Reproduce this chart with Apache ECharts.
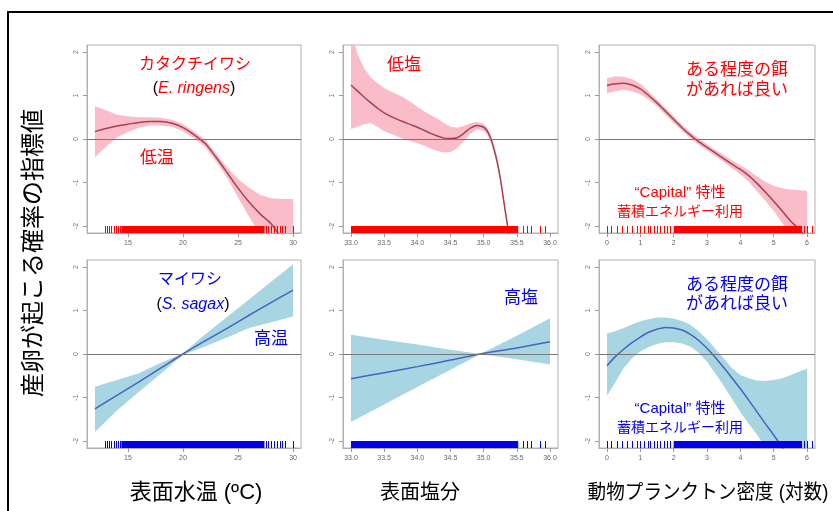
<!DOCTYPE html>
<html>
<head>
<meta charset="utf-8">
<script src="https://cdn.jsdelivr.net/npm/echarts@6/dist/echarts.min.js"></script>
<style>
  html, body { margin: 0; padding: 0; background: #fff; }
  #chart { width: 833px; height: 511px; }
</style>
</head>
<body>
<div id="chart"></div>
<script>
// ---- data ----
// temperature panels (x = SST)
var tempX        = [12, 13, 14, 15, 16, 17, 18, 19, 20, 21, 22, 23, 24, 25, 26, 27, 28, 29, 30];
var anchTempFit  = [0.17, 0.24, 0.30, 0.34, 0.38, 0.40, 0.40, 0.36, 0.26, 0.10, -0.10, -0.42, -0.77, -1.13, -1.45, -1.72, -1.95, -2.30, -2.65];
var anchTempHi   = [0.75, 0.66, 0.56, 0.52, 0.50, 0.50, 0.49, 0.44, 0.34, 0.18, -0.02, -0.33, -0.65, -0.92, -1.12, -1.28, -1.36, -1.38, -1.38];
var anchTempLo   = [-0.42, -0.18, 0.04, 0.16, 0.26, 0.31, 0.31, 0.28, 0.18, 0.02, -0.18, -0.51, -0.89, -1.34, -1.78, -2.20, -2.60, -3.10, -3.60];

var sardTempX    = [12, 14, 16, 18, 20, 22, 24, 26, 28, 30];
var sardTempFit  = [-1.26, -0.95, -0.64, -0.32, 0.00, 0.30, 0.59, 0.89, 1.18, 1.47];
var sardTempHi   = [-0.75, -0.60, -0.44, -0.20, 0.02, 0.45, 0.85, 1.25, 1.66, 2.06];
var sardTempLo   = [-1.79, -1.30, -0.87, -0.45, -0.02, 0.17, 0.38, 0.60, 0.73, 0.86];

// salinity panels
var anchSalX     = [33.0, 33.1, 33.2, 33.3, 33.4, 33.5, 33.6, 33.7, 33.8, 33.9, 34.0, 34.1, 34.2, 34.3, 34.4, 34.5, 34.6, 34.7, 34.8, 34.9, 35.0, 35.05, 35.1, 35.15, 35.2, 35.25, 35.3, 35.35, 35.4, 35.45];
var anchSalFit   = [1.24, 1.10, 0.96, 0.83, 0.71, 0.60, 0.52, 0.45, 0.39, 0.33, 0.27, 0.20, 0.13, 0.07, 0.02, 0.01, 0.03, 0.13, 0.25, 0.31, 0.27, 0.19, 0.04, -0.20, -0.50, -0.90, -1.40, -1.90, -2.40, -2.90];
var anchSalHi    = [2.50, 1.95, 1.62, 1.42, 1.28, 1.17, 1.09, 1.02, 0.95, 0.85, 0.74, 0.64, 0.55, 0.47, 0.37, 0.28, 0.26, 0.30, 0.36, 0.39, 0.35, 0.27, 0.12, -0.12, -0.42, -0.82, -1.32, -1.82, -2.32, -2.82];
var anchSalLo    = [0.23, 0.28, 0.34, 0.37, 0.28, 0.18, 0.12, 0.06, 0.00, -0.05, -0.10, -0.15, -0.22, -0.27, -0.31, -0.30, -0.21, -0.05, 0.12, 0.22, 0.19, 0.11, -0.04, -0.28, -0.58, -0.98, -1.48, -1.98, -2.48, -2.98];

var sardSalX     = [33.0, 33.5, 34.0, 34.5, 34.95, 35.5, 36.0];
var sardSalFit   = [-0.57, -0.43, -0.29, -0.14, 0.00, 0.14, 0.28];
var sardSalHi    = [0.44, 0.33, 0.22, 0.10, 0.00, 0.42, 0.82];
var sardSalLo    = [-1.56, -1.16, -0.76, -0.36, 0.00, -0.12, -0.24];

// zooplankton panels (log density)
var zooX         = [0, 0.25, 0.5, 0.75, 1.0, 1.25, 1.5, 1.75, 2.0, 2.25, 2.5, 2.75, 3.0, 3.25, 3.5, 3.75, 4.0, 4.25, 4.5, 4.75, 5.0, 5.25, 5.5, 5.75, 6.0];
var anchZooFit   = [1.23, 1.27, 1.28, 1.24, 1.15, 1.00, 0.83, 0.64, 0.45, 0.26, 0.09, -0.06, -0.19, -0.32, -0.45, -0.58, -0.70, -0.84, -1.02, -1.22, -1.43, -1.65, -1.88, -2.06, -2.28];
var anchZooHi    = [1.39, 1.44, 1.43, 1.38, 1.27, 1.09, 0.91, 0.72, 0.53, 0.33, 0.16, 0.01, -0.12, -0.25, -0.37, -0.49, -0.61, -0.72, -0.86, -0.98, -1.08, -1.13, -1.16, -1.18, -1.19];
var anchZooLo    = [1.05, 1.10, 1.13, 1.10, 1.03, 0.91, 0.75, 0.56, 0.37, 0.19, 0.02, -0.13, -0.26, -0.39, -0.53, -0.67, -0.81, -0.98, -1.20, -1.42, -1.65, -1.92, -2.25, -2.60, -3.00];

var sardZooFit   = [-0.27, -0.06, 0.11, 0.26, 0.39, 0.50, 0.57, 0.61, 0.60, 0.55, 0.45, 0.31, 0.13, -0.08, -0.31, -0.55, -0.80, -1.06, -1.33, -1.60, -1.86, -2.13, -2.40, -2.67, -2.95];
var sardZooHi    = [0.47, 0.52, 0.60, 0.68, 0.75, 0.80, 0.84, 0.84, 0.81, 0.76, 0.67, 0.52, 0.34, 0.12, -0.10, -0.33, -0.48, -0.56, -0.61, -0.62, -0.60, -0.56, -0.49, -0.41, -0.34];
var sardZooLo    = [-0.96, -0.65, -0.33, -0.10, 0.06, 0.16, 0.23, 0.27, 0.27, 0.24, 0.17, 0.03, -0.18, -0.45, -0.73, -1.03, -1.33, -1.60, -1.85, -2.15, -2.45, -2.80, -3.15, -3.50, -3.90];

// rug (observation positions): single ticks and dense stretches
var rugTempTicks = [12.9, 13.1, 13.3, 13.5, 13.7, 13.9, 14.1, 14.3, 27.5, 27.7, 28.0, 28.3, 28.5, 28.8, 29.0, 29.3, 30.0];
var rugTempBands = [[14.4, 27.4]];
var rugSalTicks  = [35.6, 35.66, 35.72, 35.85, 35.93];
var rugSalBands  = [[33.0, 35.52]];
var rugZooTicks  = [0.0, 0.12, 0.3, 0.45, 0.6, 0.75, 0.9, 1.0, 1.12, 1.22, 1.3, 1.4, 1.5, 1.6, 1.7, 1.8, 1.9, 5.9, 6.0, 6.15];
var rugZooBands  = [[2.0, 5.85]];

// axis ticks
var tempTicks = [15, 20, 25, 30];
var salTicks  = [33.0, 33.5, 34.0, 34.5, 35.0, 35.5, 36.0];
var zooTicks  = [0, 1, 2, 3, 4, 5, 6];
var yTicks    = [-2, -1, 0, 1, 2];

// ---- layout ----
var RED = '#ff0000', BLUE = '#0000ee';
var PINK = '#f9bcc8', LBLUE = '#a8d5e2';
var REDLINE = '#a8404f', BLUELINE = '#4563c0';
var YMIN = -2.16, YMAX = 2.16;

var panels = [
  {left: 87,  top: 45,  width: 214, x: tempX,    fit: anchTempFit, hi: anchTempHi, lo: anchTempLo, min: 11.28, max: 30.72, ticks: tempTicks, rt: rugTempTicks, rb: rugTempBands, band: PINK,  line: REDLINE,  rug: RED,  dec: 0},
  {left: 343, top: 45,  width: 215, x: anchSalX, fit: anchSalFit,  hi: anchSalHi,  lo: anchSalLo,  min: 32.88, max: 36.12, ticks: salTicks,  rt: rugSalTicks,  rb: rugSalBands,  band: PINK,  line: REDLINE,  rug: RED,  dec: 1},
  {left: 599, top: 45,  width: 216, x: zooX,     fit: anchZooFit,  hi: anchZooHi,  lo: anchZooLo,  min: -0.24, max: 6.24,  ticks: zooTicks,  rt: rugZooTicks,  rb: rugZooBands,  band: PINK,  line: REDLINE,  rug: RED,  dec: 0},
  {left: 87,  top: 260, width: 214, x: sardTempX, fit: sardTempFit, hi: sardTempHi, lo: sardTempLo, min: 11.28, max: 30.72, ticks: tempTicks, rt: rugTempTicks, rb: rugTempBands, band: LBLUE, line: BLUELINE, rug: BLUE, dec: 0},
  {left: 343, top: 260, width: 215, x: sardSalX, fit: sardSalFit,  hi: sardSalHi,  lo: sardSalLo,  min: 32.88, max: 36.12, ticks: salTicks,  rt: rugSalTicks,  rb: rugSalBands,  band: LBLUE, line: BLUELINE, rug: BLUE, dec: 1},
  {left: 599, top: 260, width: 216, x: zooX,     fit: sardZooFit,  hi: sardZooHi,  lo: sardZooLo,  min: -0.24, max: 6.24,  ticks: zooTicks,  rt: rugZooTicks,  rb: rugZooBands,  band: LBLUE, line: BLUELINE, rug: BLUE, dec: 0}
];

function pairs(xs, ys) {
  return xs.map(function (x, i) { return [x, ys[i]]; });
}

var grids = [], xAxes = [], yAxes = [], series = [];

panels.forEach(function (p, i) {
  grids.push({left: p.left, top: p.top, width: p.width, height: 188, show: true,
    borderColor: '#b0b0b0', borderWidth: 1, backgroundColor: 'transparent'});

  xAxes.push({
    gridIndex: i, type: 'value', min: p.min, max: p.max,
    axisLine: {show: true, onZero: false, lineStyle: {color: '#b0b0b0'}},
    axisTick: {show: true, customValues: p.ticks, length: 4, lineStyle: {color: '#999'}},
    axisLabel: {customValues: p.ticks, fontSize: 7, color: '#666', margin: 7,
      fontFamily: 'Liberation Sans',
      formatter: (function (d) { return function (v) { return v.toFixed(d); }; })(p.dec)},
    splitLine: {show: false}
  });
  yAxes.push({
    gridIndex: i, type: 'value', min: YMIN, max: YMAX,
    axisLine: {show: true, onZero: false, lineStyle: {color: '#b0b0b0'}},
    axisTick: {show: true, customValues: yTicks, length: 4, lineStyle: {color: '#999'}},
    axisLabel: {customValues: yTicks, fontSize: 7, color: '#777', rotate: 90, margin: 7,
      fontFamily: 'Liberation Sans'},
    splitLine: {show: false}
  });

  // confidence band as one polygon (upper edge then lower edge back)
  series.push({
    type: 'custom', xAxisIndex: i, yAxisIndex: i, silent: true, clip: true, z: 1,
    encode: {x: 0, y: [1, 2]},
    data: p.x.map(function (x, k) { return [x, p.lo[k], p.hi[k]]; }),
    renderItem: function (params, api) {
      if (params.dataIndex !== 0) return null;
      var pts = [];
      p.x.forEach(function (x, k) { pts.push(api.coord([x, p.hi[k]])); });
      for (var k = p.x.length - 1; k >= 0; k--) pts.push(api.coord([p.x[k], p.lo[k]]));
      return {type: 'polygon', shape: {points: pts}, style: {fill: p.band}};
    }
  });

  // fitted smooth + zero line
  series.push({
    type: 'line', xAxisIndex: i, yAxisIndex: i, data: pairs(p.x, p.fit),
    smooth: 0.3, symbol: 'none', silent: true, z: 3,
    lineStyle: {color: p.line, width: 1.5},
    markLine: {silent: true, symbol: 'none', label: {show: false},
      lineStyle: {color: '#777', width: 1, type: 'solid'}, data: [{yAxis: 0}]}
  });

  // rug: single ticks as 1px rects, dense stretches as filled rects
  series.push({
    type: 'custom', xAxisIndex: i, yAxisIndex: i, silent: true, z: 4,
    encode: {x: 0, y: 1},
    data: p.rt.map(function (v) { return [v, YMIN]; }),
    renderItem: function (params, api) {
      var c = api.coord([api.value(0), api.value(1)]);
      return {type: 'rect', shape: {x: Math.round(c[0]), y: c[1] - 7, width: 1, height: 7},
        style: {fill: p.rug}};
    }
  });
  series.push({
    type: 'custom', xAxisIndex: i, yAxisIndex: i, silent: true, z: 4,
    encode: {x: [0, 1], y: 2},
    data: p.rb.map(function (b) { return [b[0], b[1], YMIN]; }),
    renderItem: function (params, api) {
      var a = api.coord([api.value(0), api.value(2)]);
      var b = api.coord([api.value(1), api.value(2)]);
      return {type: 'rect', shape: {x: a[0], y: a[1] - 7, width: b[0] - a[0], height: 7},
        style: {fill: p.rug}};
    }
  });
});

var JP = "'Liberation Sans', 'Noto Sans CJK JP', sans-serif";
function label(text, x, y, size, color) {
  return {type: 'text', x: x, y: y, z: 100,
    style: {text: text, fontSize: size, fill: color, fontFamily: JP, align: 'center', verticalAlign: 'middle'}};
}
function species(name, x, y, color) {
  return {type: 'text', x: x, y: y, z: 100,
    style: {text: '{p|(}{i|' + name + '}{p|)}', align: 'center', verticalAlign: 'middle',
      rich: {p: {fontSize: 16, fill: '#000', fontFamily: 'Liberation Sans'},
             i: {fontSize: 16, fill: color, fontStyle: 'italic', fontFamily: 'Liberation Sans'}}}};
}

var graphics = [
  {type: 'line', shape: {x1: 7, y1: 12, x2: 833, y2: 12}, style: {stroke: '#000', lineWidth: 2}},
  {type: 'line', shape: {x1: 8, y1: 12, x2: 8, y2: 511}, style: {stroke: '#000', lineWidth: 2}},
  label('カタクチイワシ', 195, 65, 16, RED),
  species('E. ringens', 194, 89, RED),
  label('低温', 157, 158, 17, RED),
  label('低塩', 404, 65, 17, RED),
  label('ある程度の餌', 737, 70, 17, RED),
  label('があれば良い', 737, 90, 17, RED),
  label('“Capital” 特性', 680, 193, 15, RED),
  label('蓄積エネルギー利用', 680, 212, 14, RED),
  label('マイワシ', 190, 280, 16, BLUE),
  species('S. sagax', 193, 305, BLUE),
  label('高温', 271, 339, 17, BLUE),
  label('高塩', 521, 298, 17, BLUE),
  label('ある程度の餌', 737, 285, 17, BLUE),
  label('があれば良い', 737, 304, 17, BLUE),
  label('“Capital” 特性', 680, 409, 15, BLUE),
  label('蓄積エネルギー利用', 680, 428, 14, BLUE),
  label('表面水温 (ºC)', 196, 493, 22, '#000'),
  label('表面塩分', 420, 493, 20, '#000'),
  {type: 'text', x: 708, y: 493, z: 100, scaleX: 0.93,
    style: {text: '動物プランクトン密度 (対数)', fontSize: 20, fill: '#000', fontFamily: JP,
      align: 'center', verticalAlign: 'middle'}},
  {type: 'text', x: 34, y: 253, z: 100, rotation: Math.PI / 2,
    style: {text: '産卵が起こる確率の指標値', fontSize: 24, fill: '#000', fontFamily: JP,
      align: 'center', verticalAlign: 'middle'}}
];

var chart = echarts.init(document.getElementById('chart'));
chart.setOption({
  animation: false,
  backgroundColor: '#fff',
  grid: grids,
  xAxis: xAxes,
  yAxis: yAxes,
  series: series,
  graphic: graphics
});
</script>
</body>
</html>
